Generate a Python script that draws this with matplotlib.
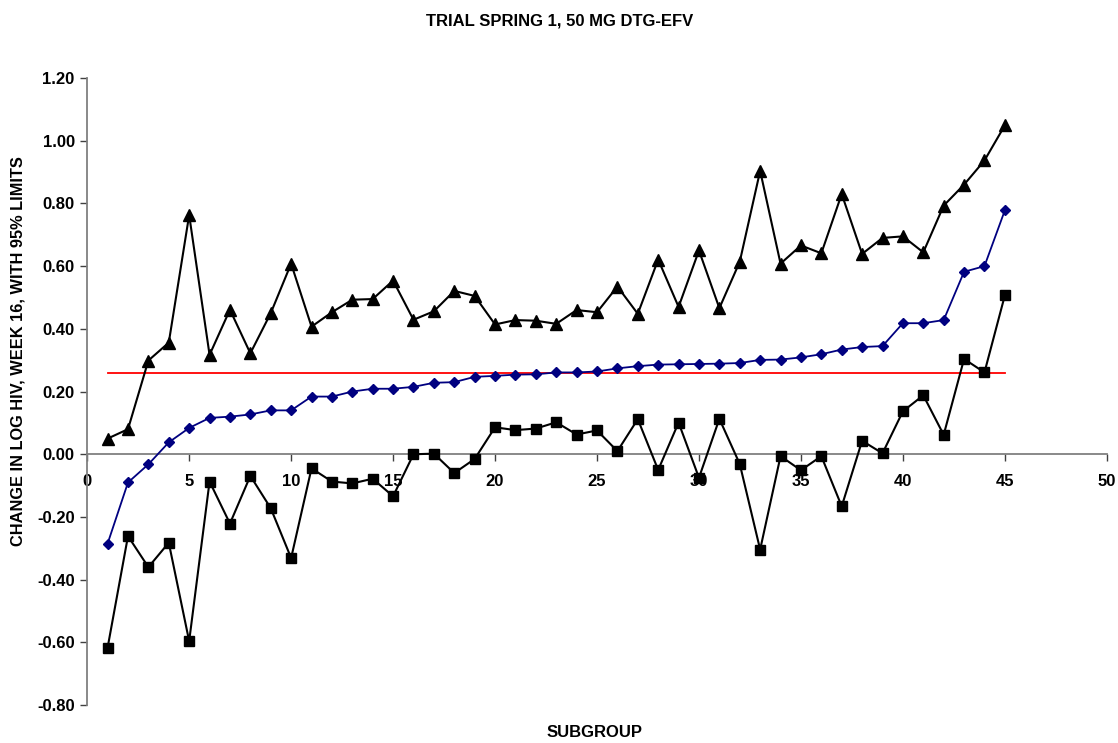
import numpy as np
import matplotlib
matplotlib.use("Agg")
import matplotlib.pyplot as plt
from matplotlib.ticker import FuncFormatter

plt.rcParams["font.family"] = ["Liberation Sans", "DejaVu Sans"]
plt.rcParams["font.weight"] = "bold"

subgroup = list(range(1, 46))

# estimate (blue diamonds), sorted
estimate = [-0.285, -0.090, -0.032, 0.038, 0.084, 0.116, 0.120, 0.127, 0.140, 0.140,
            0.184, 0.184, 0.200, 0.209, 0.209, 0.215, 0.228, 0.230, 0.247, 0.250,
            0.254, 0.255, 0.261, 0.261, 0.264, 0.274, 0.281, 0.286, 0.287, 0.288,
            0.289, 0.291, 0.301, 0.302, 0.309, 0.319, 0.334, 0.342, 0.345, 0.418,
            0.418, 0.428, 0.582, 0.600, 0.778]

# upper 95% limit (triangles)
upper = [0.050, 0.080, 0.299, 0.356, 0.763, 0.317, 0.461, 0.322, 0.450, 0.608,
         0.407, 0.453, 0.493, 0.495, 0.554, 0.429, 0.456, 0.521, 0.505, 0.414,
         0.428, 0.426, 0.416, 0.460, 0.453, 0.535, 0.448, 0.621, 0.470, 0.650,
         0.466, 0.614, 0.904, 0.608, 0.666, 0.641, 0.830, 0.639, 0.690, 0.695,
         0.644, 0.793, 0.860, 0.937, 1.049]

# lower 95% limit (squares)
lower = [-0.617, -0.261, -0.360, -0.282, -0.596, -0.087, -0.221, -0.069, -0.172, -0.331,
         -0.045, -0.087, -0.093, -0.078, -0.134, 0.000, 0.002, -0.060, -0.015, 0.086,
         0.077, 0.082, 0.102, 0.063, 0.076, 0.010, 0.112, -0.050, 0.101, -0.075,
         0.113, -0.031, -0.304, -0.006, -0.051, -0.006, -0.166, 0.043, 0.003, 0.137,
         0.188, 0.062, 0.304, 0.261, 0.507]

overall = [0.26] * 45

fig = plt.figure(figsize=(11.18, 7.43), dpi=100)
ax = fig.add_axes([0.078, 0.051, 0.912, 0.844])

ax.plot(subgroup, overall, color="#ff0000", lw=1.3, zorder=3)
ax.plot(subgroup, upper, color="black", lw=1.5, marker="^", ms=8.5, zorder=4)
ax.plot(subgroup, lower, color="black", lw=1.5, marker="s", ms=7.5, zorder=4)
ax.plot(subgroup, estimate, color="#000080", lw=1.3, marker="D", ms=5, zorder=5)

ax.set_xlim(0, 50)
ax.set_ylim(-0.8, 1.2)
ax.set_xticks(range(0, 51, 5))
ax.set_yticks(np.arange(-0.8, 1.21, 0.2))
ax.yaxis.set_major_formatter(FuncFormatter(lambda v, p: f"{v + 0.0:.2f}".replace("-0.00", "0.00")))

for s in ("top", "right"):
    ax.spines[s].set_visible(False)
ax.spines["bottom"].set_position(("data", 0))
for s in ("left", "bottom"):
    ax.spines[s].set_color("#808080")
    ax.spines[s].set_linewidth(1.3)
ax.tick_params(axis="both", direction="out", length=5, width=1, color="#404040",
               labelsize=12, pad=4)
ax.tick_params(axis="x", pad=9)
ax.xaxis.set_zorder(1)
ax.yaxis.set_zorder(1)
for lbl in ax.get_xticklabels() + ax.get_yticklabels():
    lbl.set_fontweight("bold")

fig.text(0.501, 0.972, "TRIAL SPRING 1, 50 MG DTG-EFV", ha="center", va="center",
         fontsize=12, fontweight="bold")
fig.text(0.532, 0.0135, "SUBGROUP", ha="center", va="center",
         fontsize=12, fontweight="bold")
fig.text(0.016, 0.528, "CHANGE IN LOG HIV, WEEK 16, WITH 95% LIMITS", ha="center",
         va="center", rotation=90, fontsize=11.8, fontweight="bold")

fig.savefig("out.png", dpi=100)
